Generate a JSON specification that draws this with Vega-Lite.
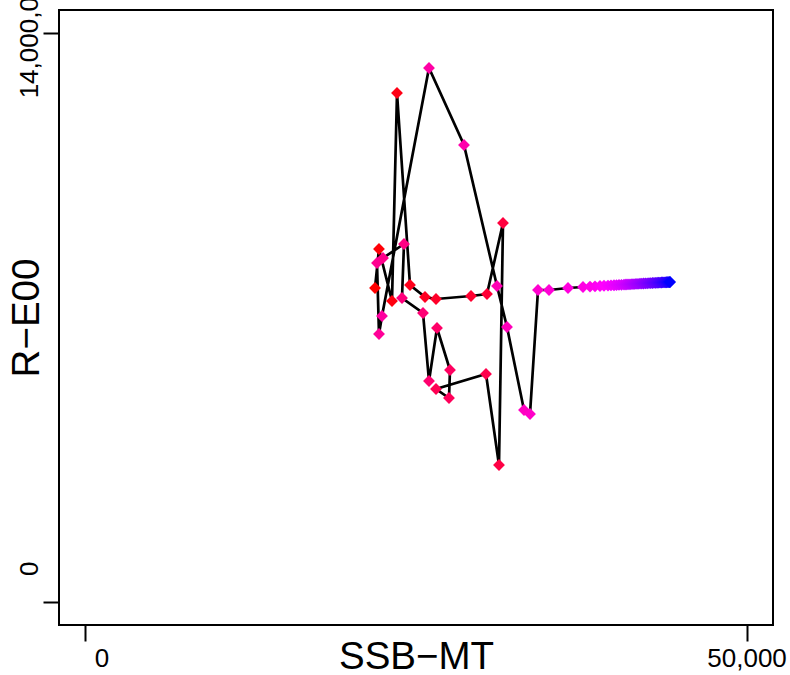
{
  "$schema": "https://vega.github.io/schema/vega-lite/v6.json",
  "width": 714,
  "height": 615,
  "autosize": {"type": "none"},
  "padding": {"left": 59, "top": 10, "right": 17, "bottom": 50},
  "background": "white",
  "config": {
    "view": {"stroke": "black", "strokeWidth": 2},
    "font": "Liberation Sans"
  },
  "data": {
    "values": [
      {"year": 1987, "ssb": 21900, "rec": 7725000},
      {"year": 1988, "ssb": 22200, "rec": 8684000},
      {"year": 1989, "ssb": 23185, "rec": 7405000},
      {"year": 1990, "ssb": 23563, "rec": 12519000},
      {"year": 1991, "ssb": 24546, "rec": 7799000},
      {"year": 1992, "ssb": 25681, "rec": 7504000},
      {"year": 1993, "ssb": 26513, "rec": 7455000},
      {"year": 1994, "ssb": 29160, "rec": 7528000},
      {"year": 1995, "ssb": 30370, "rec": 7578000},
      {"year": 1996, "ssb": 31580, "rec": 9323000},
      {"year": 1997, "ssb": 31277, "rec": 3374000},
      {"year": 1998, "ssb": 30294, "rec": 5611000},
      {"year": 1999, "ssb": 26513, "rec": 5242000},
      {"year": 2000, "ssb": 27496, "rec": 5021000},
      {"year": 2001, "ssb": 27571, "rec": 5709000},
      {"year": 2002, "ssb": 26588, "rec": 6742000},
      {"year": 2003, "ssb": 25983, "rec": 5439000},
      {"year": 2004, "ssb": 25529, "rec": 7111000},
      {"year": 2005, "ssb": 23941, "rec": 7479000},
      {"year": 2006, "ssb": 24092, "rec": 8807000},
      {"year": 2007, "ssb": 22504, "rec": 8463000},
      {"year": 2008, "ssb": 22050, "rec": 8340000},
      {"year": 2009, "ssb": 22202, "rec": 6594000},
      {"year": 2010, "ssb": 22428, "rec": 7037000},
      {"year": 2011, "ssb": 25983, "rec": 13134000},
      {"year": 2012, "ssb": 28630, "rec": 11241000},
      {"year": 2013, "ssb": 31126, "rec": 7774000},
      {"year": 2014, "ssb": 31882, "rec": 6766000},
      {"year": 2015, "ssb": 33168, "rec": 4726000},
      {"year": 2016, "ssb": 33622, "rec": 4627000},
      {"year": 2017, "ssb": 34227, "rec": 7676000},
      {"year": 2018, "ssb": 35059, "rec": 7676000},
      {"year": 2019, "ssb": 36496, "rec": 7725000},
      {"year": 2020, "ssb": 37630, "rec": 7750000},
      {"year": 2021, "ssb": 38160, "rec": 7759600},
      {"year": 2022, "ssb": 38538, "rec": 7767000},
      {"year": 2023, "ssb": 38916, "rec": 7774300},
      {"year": 2024, "ssb": 39218, "rec": 7780000},
      {"year": 2025, "ssb": 39521, "rec": 7785000},
      {"year": 2026, "ssb": 39748, "rec": 7789500},
      {"year": 2027, "ssb": 39975, "rec": 7793500},
      {"year": 2028, "ssb": 40164, "rec": 7797000},
      {"year": 2029, "ssb": 40353, "rec": 7800500},
      {"year": 2030, "ssb": 40542, "rec": 7804000},
      {"year": 2031, "ssb": 40731, "rec": 7807500},
      {"year": 2032, "ssb": 40882, "rec": 7810500},
      {"year": 2033, "ssb": 41033, "rec": 7813300},
      {"year": 2034, "ssb": 41185, "rec": 7816100},
      {"year": 2035, "ssb": 41336, "rec": 7819000},
      {"year": 2036, "ssb": 41487, "rec": 7822000},
      {"year": 2037, "ssb": 41639, "rec": 7825000},
      {"year": 2038, "ssb": 41790, "rec": 7828000},
      {"year": 2039, "ssb": 41941, "rec": 7830800},
      {"year": 2040, "ssb": 42077, "rec": 7833200},
      {"year": 2041, "ssb": 42213, "rec": 7835600},
      {"year": 2042, "ssb": 42349, "rec": 7838000},
      {"year": 2043, "ssb": 42486, "rec": 7840500},
      {"year": 2044, "ssb": 42622, "rec": 7843100},
      {"year": 2045, "ssb": 42750, "rec": 7845500},
      {"year": 2046, "ssb": 42879, "rec": 7847900},
      {"year": 2047, "ssb": 43000, "rec": 7850000},
      {"year": 2048, "ssb": 43121, "rec": 7852200},
      {"year": 2049, "ssb": 43234, "rec": 7854300},
      {"year": 2050, "ssb": 43348, "rec": 7856300},
      {"year": 2051, "ssb": 43454, "rec": 7857900},
      {"year": 2052, "ssb": 43560, "rec": 7859800},
      {"year": 2053, "ssb": 43658, "rec": 7861600},
      {"year": 2054, "ssb": 43756, "rec": 7863400},
      {"year": 2055, "ssb": 43847, "rec": 7865000},
      {"year": 2056, "ssb": 43930, "rec": 7866500},
      {"year": 2057, "ssb": 44006, "rec": 7867900},
      {"year": 2058, "ssb": 44074, "rec": 7869200},
      {"year": 2059, "ssb": 44134, "rec": 7870300},
      {"year": 2060, "ssb": 44180, "rec": 7871400},
      {"year": 2061, "ssb": 44218, "rec": 7872600}
    ]
  },
  "encoding": {
    "x": {
      "field": "ssb",
      "type": "quantitative",
      "scale": {"domain": [-2000, 52000], "nice": false, "zero": false},
      "axis": {
        "title": "SSB−MT",
        "values": [0, 50000],
        "format": ",.0f",
        "grid": false,
        "domain": false,
        "tickSize": 16,
        "tickWidth": 2,
        "tickColor": "black",
        "labelFontSize": 26,
        "labelColor": "black",
        "labelPadding": 4,
        "labelFlush": false,
        "labelOverlap": false,
        "labelBound": false,
        "labelOffset": {"condition": {"test": "datum.value === 0", "value": 16}, "value": 0},
        "titleFontSize": 38.5,
        "titleFontWeight": "normal",
        "titleColor": "black",
        "titleBaseline": "alphabetic",
        "titleY": 43
      }
    },
    "y": {
      "field": "rec",
      "type": "quantitative",
      "scale": {"domain": [-560000, 14560000], "nice": false, "zero": false},
      "axis": {
        "title": "R−E00",
        "values": [0, 14000000],
        "format": ",.0f",
        "grid": false,
        "domain": false,
        "tickSize": 16,
        "tickWidth": 2,
        "tickColor": "black",
        "labelFontSize": 26,
        "labelColor": "black",
        "labelAngle": -90,
        "labelAlign": "center",
        "labelBaseline": "alphabetic",
        "labelPadding": 6,
        "labelFlush": false,
        "labelOverlap": false,
        "labelBound": false,
        "labelOffset": {"condition": {"test": "datum.value === 0", "value": -34}, "value": 0},
        "titleFontSize": 38.5,
        "titleFontWeight": "normal",
        "titleColor": "black",
        "titleAngle": -90,
        "titleBaseline": "alphabetic",
        "titleX": -21
      }
    }
  },
  "layer": [
    {
      "mark": {"type": "line", "color": "black", "strokeWidth": 2.7},
      "encoding": {"order": {"field": "year", "type": "quantitative"}}
    },
    {
      "mark": {"type": "point", "shape": "diamond", "filled": true, "size": 140, "opacity": 1},
      "encoding": {
        "color": {
          "field": "year",
          "type": "quantitative",
          "scale": {"range": ["#FF0000", "#FF00FF", "#0000FF"], "interpolate": "rgb"},
          "legend": null
        }
      }
    }
  ]
}
